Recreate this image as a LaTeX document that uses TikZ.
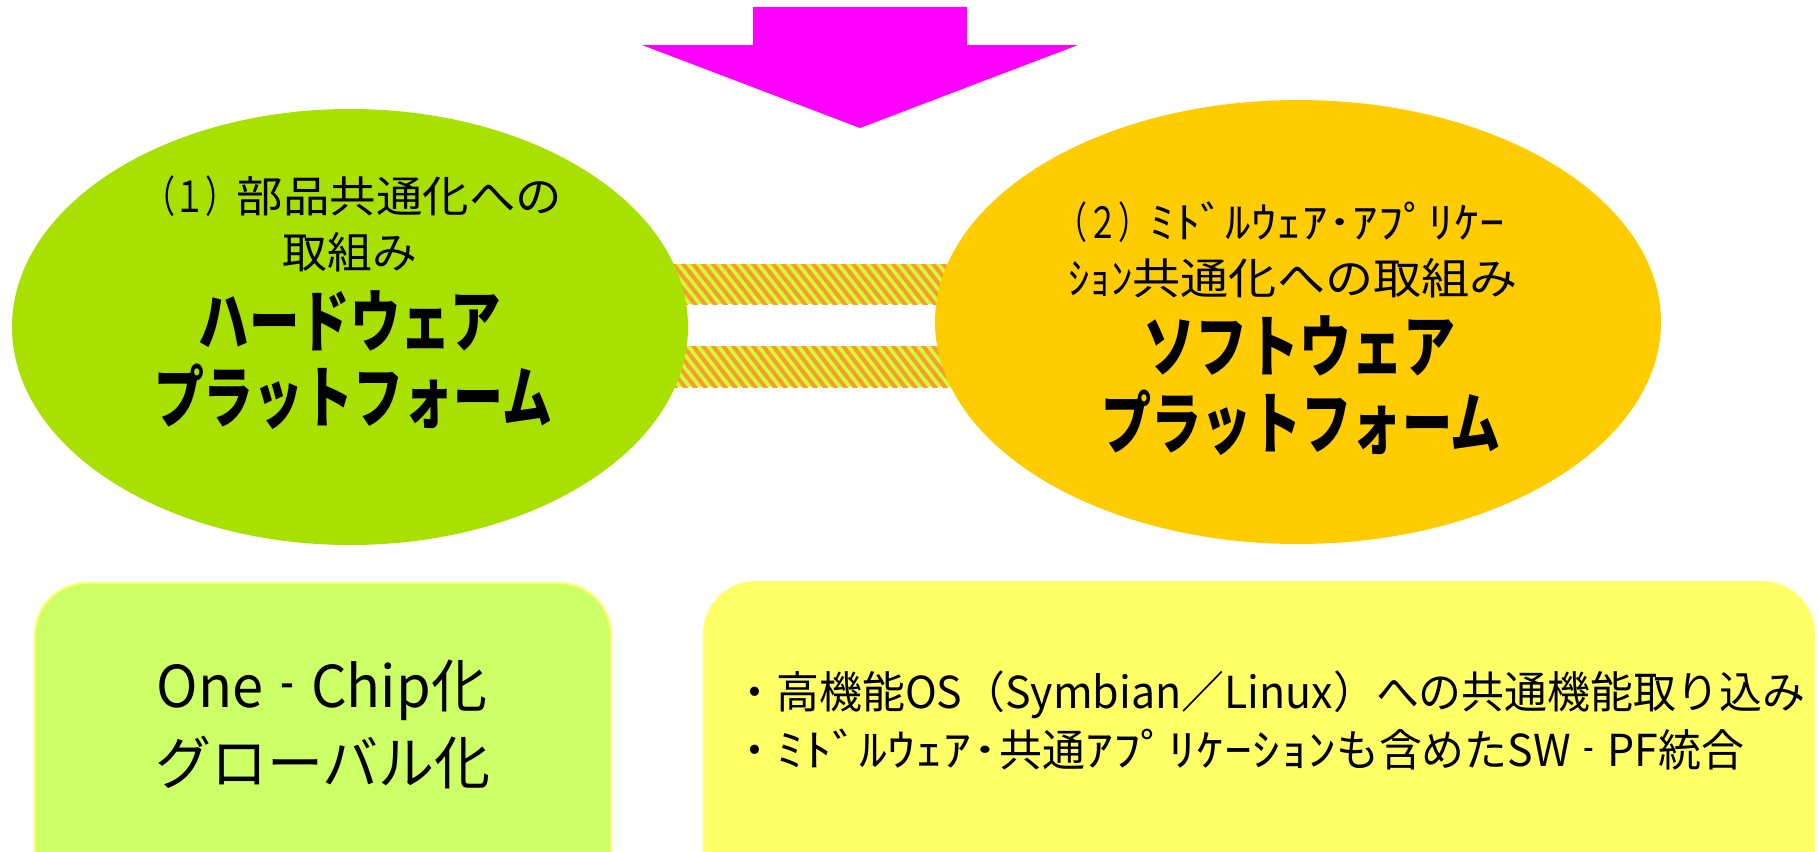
\documentclass[tikz,border=0pt]{standalone}
\usepackage{fontspec}
\setmainfont{Noto Sans CJK JP}
\usetikzlibrary{shapes.geometric}
\definecolor{arrowmag}{HTML}{FF00FF}
\definecolor{hwgreen}{HTML}{A8E100}
\definecolor{swyellow}{HTML}{FFCC00}
\definecolor{boxgreen}{HTML}{CCFF66}
\definecolor{boxyellow}{HTML}{FFFF66}
\definecolor{hatchbg}{HTML}{CCFF33}
\definecolor{hatchfg}{HTML}{FF9933}
\newcommand{\hk}[1]{\scalebox{1.3}[1]{#1}}
\newcommand{\pn}[1]{\scalebox{0.72}[1]{#1}}
\newcommand{\sdash}{\makebox[0.85em]{\scalebox{0.25}[1]{－}}}
\newcommand{\bigtxt}[2]{\scalebox{#1}[1.3]{#2}}
\tikzset{
  rbox/.style={rounded corners=26pt, line width=1pt},
  small/.style={font=\fontsize{21.5}{26}\selectfont, inner sep=0pt},
  big/.style={font=\bfseries\fontsize{26}{30}\selectfont, inner sep=0pt},
  boxtxt/.style={font=\fontsize{28}{32}\selectfont, inner sep=0pt},
  listtxt/.style={font=\fontsize{22}{26}\selectfont, inner sep=0pt, anchor=west},
}
\begin{document}
\begin{tikzpicture}[x=0.5pt,y=-0.5pt]
\useasboundingbox (0,0) rectangle (1818,851);
% arrow
\fill[arrowmag] (753,7) -- (967,7) -- (967,45) -- (1078,45) -- (860,128) -- (642,45) -- (753,45) -- cycle;
% hatched bars
\foreach \ya/\yb in {264/304, 346/387}{
  \begin{scope}
    \clip (640,\ya) rectangle (980,\yb);
    \fill[hatchbg] (640,\ya) rectangle (980,\yb);
    \foreach \k in {0,10,...,400}{
      \draw[hatchfg, line width=2pt] (600+\k,\ya-4) -- (600+\k+38,\yb+4);
    }
  \end{scope}
}
% ellipses
\fill[hwgreen] (350,327) ellipse [x radius=338, y radius=218];
\fill[swyellow] (1298,322) ellipse [x radius=363, y radius=222];
% boxes
\draw[rbox, fill=boxgreen, draw=boxyellow] (35,583) rectangle (611,900);
\draw[rbox, fill=boxyellow, draw=boxyellow] (704,582) rectangle (1814,900);
% left ellipse text
\node[small] (h1) at (353,196) {\pn{（１）}\scalebox{1.08}[1]{部品共通化への}};
\node[small] (h2) at (350,252) {\scalebox{1.04}[1]{取組み}};
\node[big] (h3) at (350,321) {\bigtxt{0.97}{ハードウェア}};
\node[big] (h4) at (353,397) {\bigtxt{0.96}{プラットフォーム}};
% right ellipse text
\node[small] (s1) at (1281,222) {\pn{（２）}\scalebox{1.18}[1]{ﾐﾄﾞﾙｳｪｱ･ｱﾌﾟﾘｹｰ}};
\node[small] (s2) at (1293,278) {ｼｮﾝ\scalebox{1.12}[1]{共通化への取組み}};
\node[big] (s3) at (1299,346) {\bigtxt{1}{ソフトウェア}};
\node[big] (s4) at (1301,423) {\bigtxt{0.965}{プラットフォーム}};
% left box text
\node[boxtxt] (b1) at (322,690) {\scalebox{1}[1.03]{One\sdash Chip化}};
\node[boxtxt] (b2) at (323,763) {\scalebox{1}[1.03]{グローバル化}};
% right box text
\node[listtxt] (l1) at (733,695) {\scalebox{0.975}[1]{・高機能OS（Symbian／Linux）への共通機能取り込み}};
\node[listtxt] (l2) at (733,750) {\scalebox{0.975}[1]{・\hk{ﾐﾄﾞﾙｳｪｱ･}共通\hk{ｱﾌﾟﾘｹｰｼｮﾝ}も含めたSW\sdash PF統合}};
\end{tikzpicture}
\end{document}
